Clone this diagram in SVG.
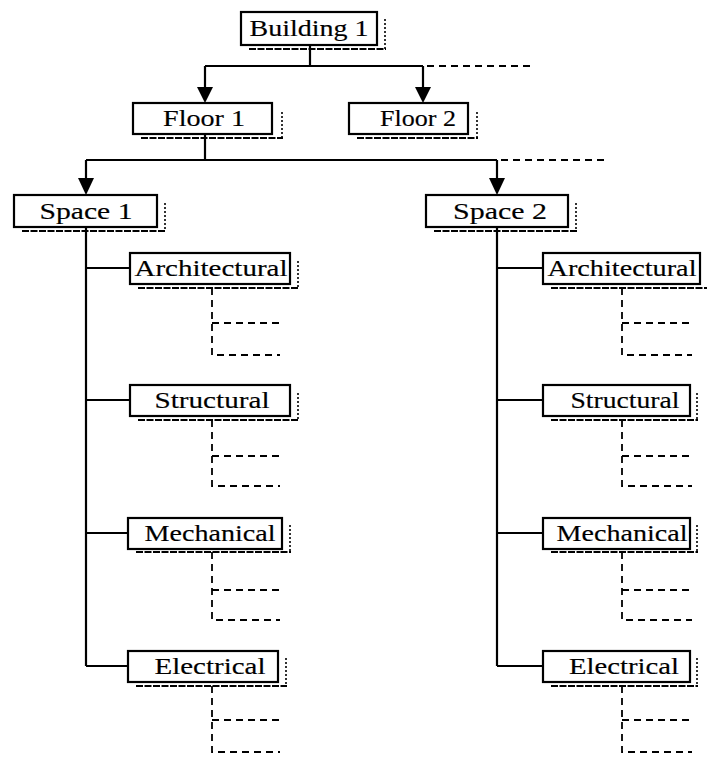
<svg xmlns="http://www.w3.org/2000/svg" width="707" height="757" viewBox="0 0 707 757">
  <style>
    .box { fill: #fff; stroke: #000; stroke-width: 2.2; }
    .shadow { fill: none; stroke: #000; stroke-width: 2; stroke-dasharray: 7 1.5; }
    .shadowR { fill: none; stroke: #000; stroke-width: 1.6; stroke-dasharray: 2 2; }
    .lbl { font-family: "Liberation Serif", "Times New Roman", serif; font-size: 22.5px; fill: #000; stroke: #000; stroke-width: 0.15; text-anchor: middle; }
    .wire { fill: none; stroke: #000; stroke-width: 2.2; }
    .dash { fill: none; stroke: #000; stroke-width: 1.8; stroke-dasharray: 7 5; }
    .arrow { fill: #000; }
  </style>

  <!-- connectors -->
  <g id="connectors">
    <!-- building level -->
    <path class="wire" d="M310 45 V66 M205 66 H423 M205 66 V88 M423 66 V88"/>
    <path class="dash" d="M427 66 H532"/>
    <polygon class="arrow" points="197,87 213,87 205,103"/>
    <polygon class="arrow" points="415,87 431,87 423,103"/>
    <!-- floor level -->
    <path class="wire" d="M205 134 V160 M86 160 H497 M86 160 V179 M497 160 V179"/>
    <path class="dash" d="M501 160 H608"/>
    <polygon class="arrow" points="78,178 94,178 86,195"/>
    <polygon class="arrow" points="489,178 505,178 497,195"/>
    <!-- space 1 trunk -->
    <path class="wire" d="M86 227 V666 M86 268 H130 M86 400 H130 M86 533 H128 M86 666 H128"/>
    <!-- space 2 trunk -->
    <path class="wire" d="M497 227 V666 M497 268 H543 M497 400 H543 M497 533 H543 M497 666 H543"/>
    <!-- open continuation stubs, left column -->
    <path class="dash" d="M212 288 V355 H280 M212 323 H280"/>
    <path class="dash" d="M212 420 V486 H280 M212 456 H280"/>
    <path class="dash" d="M212 552 V620 H280 M212 590 H280"/>
    <path class="dash" d="M212 686 V752 H280 M212 720 H280"/>
    <!-- open continuation stubs, right column -->
    <path class="dash" d="M622 288 V355 H692 M622 323 H692"/>
    <path class="dash" d="M622 420 V486 H692 M622 456 H692"/>
    <path class="dash" d="M622 552 V620 H692 M622 590 H692"/>
    <path class="dash" d="M622 686 V752 H692 M622 720 H692"/>
  </g>

  <g id="building1">
    <path class="shadow" d="M249 49 H386"/><path class="shadowR" d="M385 19 V49"/>
    <rect class="box" x="241" y="12" width="136" height="33"/>
    <text class="lbl" x="309" y="36" textLength="119" lengthAdjust="spacingAndGlyphs">Building 1</text>
  </g>

  <g id="floor1">
    <path class="shadow" d="M141 138 H283"/><path class="shadowR" d="M282 112 V138"/>
    <rect class="box" x="133" y="103" width="139" height="31"/>
    <text class="lbl" x="204" y="126" textLength="82" lengthAdjust="spacingAndGlyphs">Floor 1</text>
  </g>

  <g id="floor2">
    <path class="shadow" d="M357 138 H478"/><path class="shadowR" d="M477 112 V138"/>
    <rect class="box" x="349" y="103" width="119" height="31"/>
    <text class="lbl" x="418" y="126" textLength="76" lengthAdjust="spacingAndGlyphs">Floor 2</text>
  </g>

  <g id="space1">
    <path class="shadow" d="M22 231 H166"/><path class="shadowR" d="M165 203 V231"/>
    <rect class="box" x="14" y="195" width="143" height="32"/>
    <text class="lbl" x="86" y="219" textLength="93" lengthAdjust="spacingAndGlyphs">Space 1</text>
  </g>

  <g id="space2">
    <path class="shadow" d="M434 231 H577"/><path class="shadowR" d="M576 203 V231"/>
    <rect class="box" x="426" y="195" width="142" height="32"/>
    <text class="lbl" x="500" y="219" textLength="94" lengthAdjust="spacingAndGlyphs">Space 2</text>
  </g>

  <!-- disciplines under Space 1 -->
  <g id="s1-architectural">
    <path class="shadow" d="M138 288 H299"/><path class="shadowR" d="M298 261 V288"/>
    <rect class="box" x="130" y="253" width="160" height="31"/>
    <text class="lbl" x="211" y="276" textLength="153" lengthAdjust="spacingAndGlyphs">Architectural</text>
  </g>
  <g id="s1-structural">
    <path class="shadow" d="M138 420 H299"/><path class="shadowR" d="M298 393 V420"/>
    <rect class="box" x="130" y="385" width="160" height="31"/>
    <text class="lbl" x="212" y="408" textLength="115" lengthAdjust="spacingAndGlyphs">Structural</text>
  </g>
  <g id="s1-mechanical">
    <path class="shadow" d="M136 552 H291"/><path class="shadowR" d="M290 525 V552"/>
    <rect class="box" x="128" y="518" width="154" height="31"/>
    <text class="lbl" x="210" y="541" textLength="131" lengthAdjust="spacingAndGlyphs">Mechanical</text>
  </g>
  <g id="s1-electrical">
    <path class="shadow" d="M136 686 H287"/><path class="shadowR" d="M286 658 V686"/>
    <rect class="box" x="128" y="651" width="150" height="31"/>
    <text class="lbl" x="210" y="674" textLength="111" lengthAdjust="spacingAndGlyphs">Electrical</text>
  </g>

  <!-- disciplines under Space 2 -->
  <g id="s2-architectural">
    <path class="shadow" d="M551 288 H707"/>
    <rect class="box" x="543" y="253" width="157" height="31"/>
    <text class="lbl" x="622" y="276" textLength="149" lengthAdjust="spacingAndGlyphs">Architectural</text>
  </g>
  <g id="s2-structural">
    <path class="shadow" d="M551 420 H698"/><path class="shadowR" d="M697 393 V420"/>
    <rect class="box" x="543" y="385" width="147" height="31"/>
    <text class="lbl" x="625" y="408" textLength="109" lengthAdjust="spacingAndGlyphs">Structural</text>
  </g>
  <g id="s2-mechanical">
    <path class="shadow" d="M551 552 H698"/><path class="shadowR" d="M697 525 V552"/>
    <rect class="box" x="543" y="518" width="147" height="31"/>
    <text class="lbl" x="622" y="541" textLength="131" lengthAdjust="spacingAndGlyphs">Mechanical</text>
  </g>
  <g id="s2-electrical">
    <path class="shadow" d="M551 686 H698"/><path class="shadowR" d="M697 658 V686"/>
    <rect class="box" x="543" y="651" width="147" height="31"/>
    <text class="lbl" x="624" y="674" textLength="110" lengthAdjust="spacingAndGlyphs">Electrical</text>
  </g>
</svg>
